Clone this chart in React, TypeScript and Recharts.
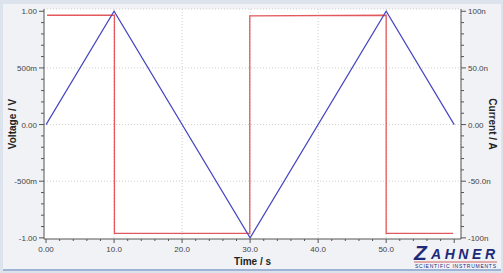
import { LineChart, Line, XAxis, YAxis, CartesianGrid } from "recharts";

// time axis, seconds
const timeMajor = [0, 10, 20, 30, 40, 50, 60];
const timeLabels = ["0.00", "10.0", "20.0", "30.0", "40.0", "50.0", ""];
// voltage axis, volts
const voltMajor = [-1, -0.5, 0, 0.5, 1];
const voltLabels = ["-1.00", "-500m", "0.00", "500m", "1.00"];
// current axis, nA
const currMajor = [-100, -50, 0, 50, 100];
const currLabels = ["-100n", "-50.0n", "0.00", "50.0n", "100n"];

// triangle voltage sweep
const voltTime = [0, 10, 30, 50, 60];
const voltValue = [0, 1, -1, 1, 0];

// measured current (nA)
const currTime = [0.15, 10.05, 10.05, 29.95, 29.95, 50.0, 50.0, 59.85];
const currValue = [96.5, 96.5, -96, -96, 96, 96.5, -96, -96];

const voltData = voltTime.map((t, i) => ({ t, v: voltValue[i] }));
const currData = currTime.map((t, i) => ({ t, c: currValue[i] }));

const timeTicks: number[] = [];
for (let i = 0; i <= 30; i++) timeTicks.push(i * 2);
const voltTicks: number[] = [];
for (let i = -10; i <= 10; i++) voltTicks.push(i / 10);
const currTicks: number[] = [];
for (let i = -10; i <= 10; i++) currTicks.push(i * 10);

const near = (a: number, b: number) => Math.abs(a - b) < 1e-6;
const axisColor = "#555";
const font = "'Liberation Sans', Arial, sans-serif";

function XTick(props: any) {
  const { x, y, payload } = props;
  const idx = timeMajor.findIndex((m) => near(m, payload.value));
  const major = idx >= 0;
  return (
    <g>
      <line x1={x} x2={x} y1={y} y2={y + (major ? 4 : 2)} stroke={axisColor} strokeWidth={1} />
      {major && (
        <text x={x} y={y + 13} textAnchor="middle" fontSize={8} fill="#444" fontFamily={font}>
          {timeLabels[idx]}
        </text>
      )}
    </g>
  );
}

function LeftTick(props: any) {
  const { x, y, payload } = props;
  const idx = voltMajor.findIndex((m) => near(m, payload.value));
  const major = idx >= 0;
  return (
    <g>
      <line x1={x} x2={x - (major ? 5 : 3)} y1={y} y2={y} stroke={axisColor} strokeWidth={1} />
      {major && (
        <text x={x - 7} y={y + 3} textAnchor="end" fontSize={8} fill="#444" fontFamily={font}>
          {voltLabels[idx]}
        </text>
      )}
    </g>
  );
}

function RightTick(props: any) {
  const { x, y, payload } = props;
  const idx = currMajor.findIndex((m) => near(m, payload.value));
  const major = idx >= 0;
  return (
    <g>
      <line x1={x} x2={x + (major ? 5 : 3)} y1={y} y2={y} stroke={axisColor} strokeWidth={1} />
      {major && (
        <text x={x + 7} y={y + 3} textAnchor="start" fontSize={8} fill="#444" fontFamily={font}>
          {currLabels[idx]}
        </text>
      )}
    </g>
  );
}

export default function App() {
  return (
    <div style={{ position: "absolute", left: 0, top: 0, width: 503, height: 273, background: "#dde3ec", overflow: "hidden" }}>
      <style>{"body{margin:0}"}</style>
      <div style={{ position: "absolute", left: 3, top: 4, width: 498, height: 265, background: "#f1f2f5", borderBottom: "2px solid #9fb3d6" }} />
      <div style={{ position: "absolute", left: 0, top: 0 }}>
        <LineChart width={503} height={273} margin={{ top: 9, right: 0, bottom: 0, left: 0 }}>
          <CartesianGrid
            yAxisId="v"
            fill="#ffffff"
            stroke="#cfcfcf"
            strokeDasharray="1 2"
            verticalValues={[10, 20, 30, 40, 50, 61]}
            horizontalValues={[1.02, 0.5, 0, -0.5]}
          />
          <XAxis
            dataKey="t"
            type="number"
            domain={[-0.3, 61]}
            ticks={timeTicks}
            interval={0}
            tickLine={false}
            tickSize={0}
            tickMargin={0}
            tick={<XTick />}
            height={34}
            allowDataOverflow
            stroke={axisColor}
            label={{ value: "Time / s", position: "insideBottom", offset: 8, fontSize: 10, fontWeight: "bold", fill: "#222", fontFamily: font }}
          />
          <YAxis
            yAxisId="v"
            type="number"
            domain={[-1.01, 1.02]}
            ticks={voltTicks}
            interval={0}
            tickLine={false}
            tickSize={0}
            tickMargin={0}
            tick={<LeftTick />}
            width={44}
            allowDataOverflow
            stroke={axisColor}
            label={{ value: "Voltage / V", angle: -90, position: "insideLeft", offset: 12, fontSize: 10, fontWeight: "bold", fill: "#222", fontFamily: font, style: { textAnchor: "middle" } }}
          />
          <YAxis
            yAxisId="c"
            orientation="right"
            type="number"
            domain={[-101, 102]}
            ticks={currTicks}
            interval={0}
            tickLine={false}
            tickSize={0}
            tickMargin={0}
            tick={<RightTick />}
            width={42}
            allowDataOverflow
            stroke={axisColor}
            label={{ value: "Current / A", angle: 90, position: "insideRight", offset: 10, fontSize: 10, fontWeight: "bold", fill: "#222", fontFamily: font, style: { textAnchor: "middle" } }}
          />
          <Line
            yAxisId="c"
            data={currData}
            dataKey="c"
            type="linear"
            stroke="#e3585c"
            strokeWidth={1.3}
            dot={false}
            isAnimationActive={false}
          />
          <Line
            yAxisId="v"
            data={voltData}
            dataKey="v"
            type="linear"
            stroke="#4646c4"
            strokeWidth={1.2}
            dot={false}
            isAnimationActive={false}
          />
        </LineChart>
      </div>
      <svg width={92} height={32} style={{ position: "absolute", left: 410, top: 240 }}>
        <text x={4} y={20} fontSize={21} fontStyle="italic" fontWeight="bold" fill="#1d2a7a" fontFamily={font}>
          Z
        </text>
        <text x={21} y={19} fontSize={14} fontStyle="italic" fontWeight="bold" fill="#1d2a7a" fontFamily={font} textLength={64} lengthAdjust="spacing">
          AHNER
        </text>
        <line x1={4} x2={87} y1={22} y2={22} stroke="#d04040" strokeWidth={0.8} />
        <text x={5} y={28} fontSize={5} fill="#1d2a7a" fontFamily={font} textLength={81} lengthAdjust="spacing">
          SCIENTIFIC INSTRUMENTS
        </text>
      </svg>
    </div>
  );
}
